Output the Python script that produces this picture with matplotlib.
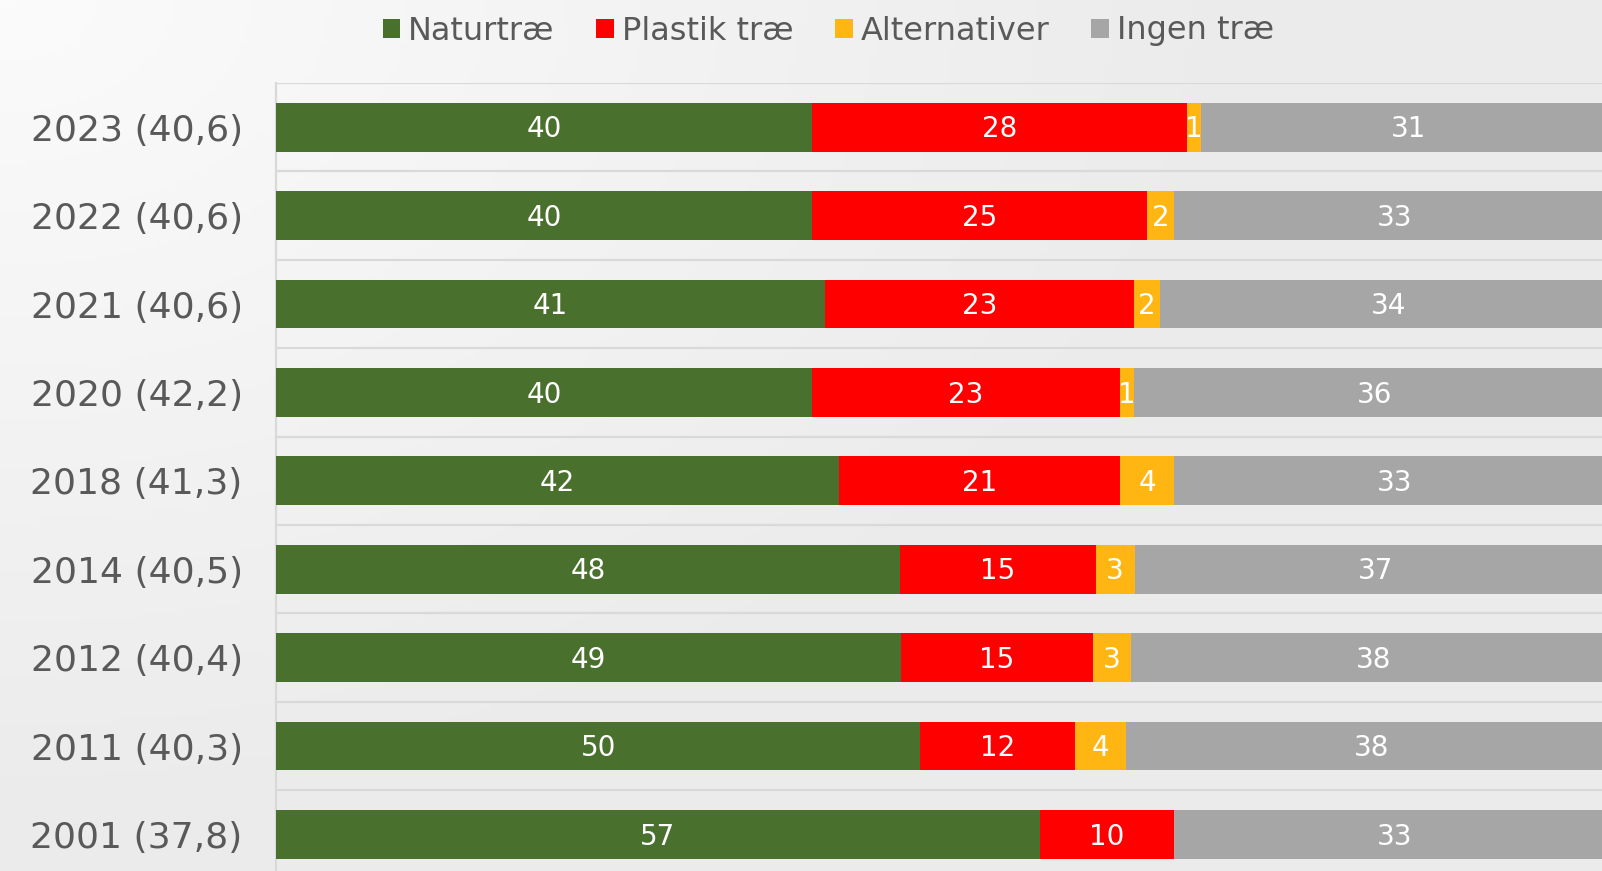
import numpy as np
import matplotlib
matplotlib.use("Agg")
import matplotlib.pyplot as plt
from matplotlib.patches import Patch

plt.rcParams['font.family'] = ['DejaVu Sans']

categories = ["2023 (40,6)", "2022 (40,6)", "2021 (40,6)", "2020 (42,2)", "2018 (41,3)",
              "2014 (40,5)", "2012 (40,4)", "2011 (40,3)", "2001 (37,8)"]
series_names = ["Naturtræ", "Plastik træ", "Alternativer", "Ingen træ"]
naturtrae = [40, 40, 41, 40, 42, 48, 49, 50, 57]
plastik = [28, 25, 23, 23, 21, 15, 15, 12, 10]
alternativer = [1, 2, 2, 1, 4, 3, 3, 4, 0]
ingen = [31, 33, 34, 36, 33, 37, 38, 38, 33]
colors = ["#4A702E", "#FF0000", "#FFB612", "#A6A6A6"]

W, H = 1602, 871
fig = plt.figure(figsize=(W / 100, H / 100), dpi=100)

# background gradient
bg = fig.add_axes([0, 0, 1, 1], zorder=-10)
yy, xx = np.mgrid[0:1:200j, 0:1:300j]
r = np.sqrt((xx * 1.2) ** 2 + (yy * 1.0) ** 2)
r = np.clip(r / 0.9, 0, 1)
val = 0.985 - 0.06 * r
img = np.dstack([val, val, val])
bg.imshow(img, extent=[0, 1, 0, 1], aspect='auto', origin='upper')
bg.axis('off')

left_px = 276
plot_w_px = 1340  # 100 % extends slightly past the right edge (cropped)
top_px = 83
ax = fig.add_axes([left_px / W, 0, plot_w_px / W, (H - top_px) / H])
ax.set_facecolor('none')

data = np.array([naturtrae, plastik, alternativer, ingen], dtype=float)
totals = data.sum(axis=0)
pct = data / totals * 100
y = np.arange(len(categories))
lefts = np.zeros(len(categories))
bar_h = 0.554
val_fs = 20
for i, name in enumerate(series_names):
    ax.barh(y, pct[i], left=lefts, height=bar_h, color=colors[i], label=name, zorder=3)
    for j in range(len(categories)):
        v = data[i, j]
        if v > 0:
            ax.annotate(f"{int(v)}", xy=(lefts[j] + pct[i, j] / 2, y[j]),
                        xytext=(0, -0.729 * val_fs / 2), textcoords='offset points',
                        ha='center', va='baseline', color='white', fontsize=val_fs,
                        zorder=4, annotation_clip=False)
    lefts = lefts + pct[i]

pitch = 88.4
ax.set_xlim(0, 100)
ax.set_ylim(-0.5 + (H - top_px) / pitch, -0.5)
for k in range(len(categories)):
    ax.axhline(k - 0.5, color='#D9D9D9', lw=1.6, zorder=1)
ax.set_yticks(y)
ax.set_yticklabels(categories)
ax.tick_params(axis='y', length=0, pad=24, labelsize=26, labelcolor='#595959')
for lab in ax.get_yticklabels():
    lab.set_verticalalignment('center_baseline')
ax.set_xticks([])
for s in ['top', 'right', 'bottom']:
    ax.spines[s].set_visible(False)
ax.spines['left'].set_color('#D9D9D9')
ax.spines['left'].set_linewidth(1.6)

handles = [Patch(facecolor=c, edgecolor='none') for c in colors]
leg = fig.legend(handles, series_names, loc='center', bbox_to_anchor=(0.517, 1 - 31 / H),
                 ncol=4, frameon=False, fontsize=23, handlelength=0.55, handleheight=0.55,
                 handletextpad=0.25, columnspacing=1.3, borderpad=0)
for t in leg.get_texts():
    t.set_color('#595959')

fig.savefig("out.png", dpi=100)
